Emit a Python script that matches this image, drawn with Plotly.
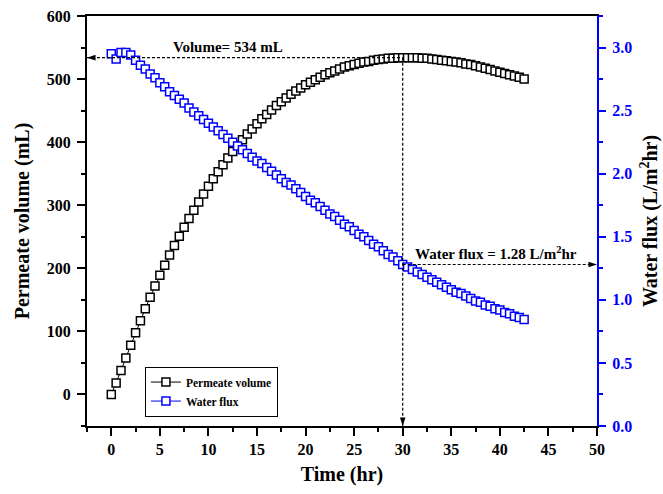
import plotly.graph_objects as go

# ---------------- data ----------------
time_hr = [i * 0.5 for i in range(86)]  # 0 .. 42.5 hr, every 0.5 hr

permeate_volume = [
    0, 18, 38, 58, 78, 98, 117, 136, 154, 172,
    189, 205, 221, 236, 251, 265, 279, 292, 305, 318,
    330, 342, 353, 364, 375, 385, 395, 404, 413, 421,
    429, 437, 444, 451, 458, 464, 470, 476, 481, 486,
    491, 495, 499, 503, 507, 510, 513, 516, 519, 521,
    523, 525, 527, 528, 530, 531, 532, 533, 533, 534,
    534, 534, 534, 534, 533, 533, 532, 531, 530, 529,
    528, 527, 526, 524, 523, 521, 519, 517, 515, 513,
    511, 509, 507, 505, 503, 500,
]

water_flux = [
    2.95, 2.91, 2.96, 2.96, 2.94, 2.90, 2.86, 2.83, 2.79, 2.76,
    2.72, 2.69, 2.65, 2.62, 2.59, 2.56, 2.52, 2.49, 2.46, 2.43,
    2.40, 2.37, 2.34, 2.31, 2.28, 2.25, 2.22, 2.19, 2.16, 2.13,
    2.10, 2.08, 2.05, 2.02, 1.99, 1.96, 1.93, 1.91, 1.88, 1.85,
    1.82, 1.79, 1.77, 1.74, 1.71, 1.68, 1.66, 1.63, 1.60, 1.58,
    1.55, 1.52, 1.50, 1.47, 1.44, 1.42, 1.39, 1.36, 1.34, 1.31,
    1.28, 1.26, 1.24, 1.22, 1.20, 1.18, 1.16, 1.14, 1.12, 1.10,
    1.08, 1.06, 1.05, 1.03, 1.01, 0.99, 0.98, 0.96, 0.95, 0.93,
    0.92, 0.90, 0.89, 0.87, 0.86, 0.845,
]

peak_time = 30
peak_volume = 534
flux_at_peak = 1.28

x_ticks = list(range(0, 55, 5))
y_ticks = list(range(0, 700, 100))
y2_ticks = [0.0, 0.5, 1.0, 1.5, 2.0, 2.5, 3.0]

# ---------------- styling ----------------
FONT = "Liberation Serif"
BLUE = "#0000FF"
X_RANGE = [-2.5, 50]
Y_RANGE = [-50, 600]
Y2_RANGE = [0, 3.25]

fig = go.Figure()

fig.add_trace(go.Scatter(
    x=time_hr, y=permeate_volume, name="Permeate volume",
    mode="lines+markers",
    line=dict(color="black", width=1),
    marker=dict(symbol="square", size=8, color="white",
                line=dict(color="black", width=1.5)),
    yaxis="y",
))
fig.add_trace(go.Scatter(
    x=time_hr, y=water_flux, name="Water flux",
    mode="lines+markers",
    line=dict(color=BLUE, width=1),
    marker=dict(symbol="square", size=8, color="white",
                line=dict(color=BLUE, width=1.5)),
    yaxis="y2",
))

dash = "3px,2px"
# dashed guide lines
fig.add_shape(type="line", xref="x", yref="y", x0=X_RANGE[0], x1=peak_time,
              y0=peak_volume, y1=peak_volume,
              line=dict(color="black", width=1.2, dash=dash))
fig.add_shape(type="line", xref="x", yref="y", x0=peak_time, x1=peak_time,
              y0=peak_volume, y1=Y_RANGE[0],
              line=dict(color="black", width=1.2, dash=dash))
fig.add_shape(type="line", xref="x", yref="y2", x0=peak_time, x1=X_RANGE[1],
              y0=flux_at_peak, y1=flux_at_peak,
              line=dict(color="black", width=1.2, dash=dash))

# arrow heads (arrow symbol: tip sits on the point)
arrow_marker = dict(symbol="arrow", size=9, color="black",
                    line=dict(width=0))
fig.add_trace(go.Scatter(
    x=[X_RANGE[0], peak_time], y=[peak_volume, Y_RANGE[0]],
    mode="markers", showlegend=False, hoverinfo="skip", cliponaxis=False,
    marker=dict(arrow_marker, angle=[-90, 180]), yaxis="y",
))
fig.add_trace(go.Scatter(
    x=[X_RANGE[1]], y=[flux_at_peak],
    mode="markers", showlegend=False, hoverinfo="skip", cliponaxis=False,
    marker=dict(arrow_marker, angle=[90]), yaxis="y2",
))

# text labels
fig.add_annotation(x=12, y=peak_volume, xref="x", yref="y",
                   text=f"Volume= {peak_volume} mL", showarrow=False,
                   yanchor="bottom", yshift=1,
                   font=dict(family=FONT, size=15, color="black", weight="bold"))
fig.add_annotation(x=39.6, y=flux_at_peak, xref="x", yref="y2",
                   text=f"Water flux = {flux_at_peak} L/m<sup>2</sup>hr",
                   showarrow=False, yanchor="bottom", yshift=1,
                   font=dict(family=FONT, size=15, color="black", weight="bold"))

tick_font = dict(family=FONT, size=16, color="black", weight="bold")
title_font = dict(family=FONT, size=20, color="black", weight="bold")

fig.update_layout(
    width=663, height=494,
    margin=dict(l=87, r=66, t=16, b=68, autoexpand=False),
    paper_bgcolor="white", plot_bgcolor="white",
    showlegend=True,
    legend=dict(x=0.1136, y=0.145, xanchor="left", yanchor="top",
                bgcolor="white", bordercolor="black", borderwidth=1,
                font=dict(family=FONT, size=11.5, color="black", weight="bold"),
                tracegroupgap=0, itemwidth=30),
    xaxis=dict(
        range=X_RANGE, tickvals=x_ticks, showgrid=False, zeroline=False,
        showline=True, linecolor="black", linewidth=2, mirror=True,
        ticks="outside", ticklen=8, tickwidth=2, tickcolor="black",
        minor=dict(dtick=2.5, tick0=0, ticks="outside", ticklen=4,
                   tickwidth=2, tickcolor="black"),
        tickfont=tick_font,
        title=dict(text="Time (hr)", font=title_font, standoff=10),
        automargin=False,
    ),
    yaxis=dict(
        range=Y_RANGE, tickvals=y_ticks, showgrid=False, zeroline=False,
        showline=True, linecolor="black", linewidth=2,
        ticks="outside", ticklen=8, tickwidth=2, tickcolor="black",
        minor=dict(dtick=50, tick0=0, ticks="outside", ticklen=4,
                   tickwidth=2, tickcolor="black"),
        tickfont=tick_font, ticklabelstandoff=3,
        title=dict(text="Permeate volume (mL)", font=title_font, standoff=12),
        automargin=False,
    ),
    yaxis2=dict(
        range=Y2_RANGE, tickvals=y2_ticks, tickformat=".1f",
        overlaying="y", side="right", showgrid=False, zeroline=False,
        showline=True, linecolor=BLUE, linewidth=2,
        ticks="outside", ticklen=7, tickwidth=2, tickcolor=BLUE,
        minor=dict(dtick=0.25, tick0=0, ticks="outside", ticklen=4,
                   tickwidth=2, tickcolor=BLUE),
        tickfont=dict(family=FONT, size=16, color=BLUE, weight="bold"),
        ticklabelstandoff=3,
        title=dict(text="Water flux (L/m<sup>2</sup>hr)", font=title_font, standoff=12),
        automargin=False,
    ),
)

fig.write_html("out.html")
